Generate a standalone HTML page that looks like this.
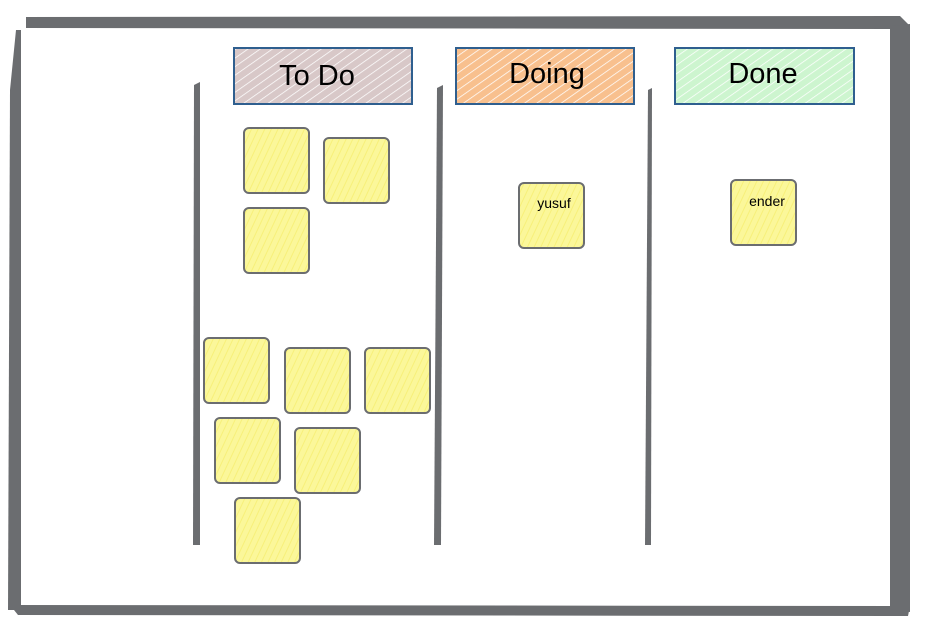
<!DOCTYPE html>
<html><head><meta charset="utf-8"><style>
html,body{margin:0;padding:0;background:#fff;width:927px;height:625px;overflow:hidden}
svg{display:block}
text{font-family:"Comic Sans MS","Liberation Sans",sans-serif}
</style></head><body>
<svg width="927" height="625" viewBox="0 0 927 625" xmlns="http://www.w3.org/2000/svg">
<defs>
<pattern id="hy" width="6" height="6" patternUnits="userSpaceOnUse" patternTransform="rotate(25)">
<rect width="6" height="6" fill="#fbf79a"/><line x1="0" y1="0" x2="0" y2="6" stroke="#f7f07a" stroke-width="2"/></pattern>
<pattern id="hg" width="7" height="7" patternUnits="userSpaceOnUse" patternTransform="rotate(-35)">
<rect width="7" height="7" fill="#d8c8c8"/><line x1="0" y1="0" x2="7" y2="0" stroke="#fff" stroke-width="1.5"/></pattern>
<pattern id="ho" width="7" height="7" patternUnits="userSpaceOnUse" patternTransform="rotate(-35)">
<rect width="7" height="7" fill="#f8c08e"/><line x1="0" y1="0" x2="7" y2="0" stroke="#fff" stroke-width="1.5"/></pattern>
<pattern id="hn" width="7" height="7" patternUnits="userSpaceOnUse" patternTransform="rotate(-35)">
<rect width="7" height="7" fill="#cdf5cf"/><line x1="0" y1="0" x2="7" y2="0" stroke="#fff" stroke-width="1.5"/></pattern>
</defs>
<g fill="#6b6d70">
<polygon points="26,17 900,16 910,26 890,29 26,28"/>
<polygon points="890,26 910,24 910,612 890,610"/>
<polygon points="10,605 910,606 908,616 18,615"/>
<polygon points="16,30 21,30 21,610 8,610 10,90"/>
<polygon points="194,85 200,82 200,545 193,545"/>
<polygon points="437,88 443,85 441,545 434,545"/>
<polygon points="648,90 652,88 651,545 645,545"/>
</g>
<rect x="234" y="48" width="178" height="56" fill="url(#hg)" stroke="#2f5f8f" stroke-width="2"/>
<rect x="456" y="48" width="178" height="56" fill="url(#ho)" stroke="#2f5f8f" stroke-width="2"/>
<rect x="675" y="48" width="179" height="56" fill="url(#hn)" stroke="#2f5f8f" stroke-width="2"/>
<text x="317" y="85" font-size="29" text-anchor="middle">To Do</text>
<text x="547" y="83" font-size="29" text-anchor="middle">Doing</text>
<text x="763" y="83" font-size="29" text-anchor="middle">Done</text>
<g fill="url(#hy)" stroke="#6b6d70" stroke-width="2">
<rect x="244" y="128" width="65" height="65" rx="5"/>
<rect x="324" y="138" width="65" height="65" rx="5"/>
<rect x="244" y="208" width="65" height="65" rx="5"/>
<rect x="204" y="338" width="65" height="65" rx="5"/>
<rect x="285" y="348" width="65" height="65" rx="5"/>
<rect x="365" y="348" width="65" height="65" rx="5"/>
<rect x="215" y="418" width="65" height="65" rx="5"/>
<rect x="295" y="428" width="65" height="65" rx="5"/>
<rect x="235" y="498" width="65" height="65" rx="5"/>
<rect x="519" y="183" width="65" height="65" rx="5"/>
<rect x="731" y="180" width="65" height="65" rx="5"/>
</g>
<text x="554" y="208" font-size="14" text-anchor="middle">yusuf</text>
<text x="767" y="206" font-size="14" text-anchor="middle">ender</text>
</svg>
</body></html>
